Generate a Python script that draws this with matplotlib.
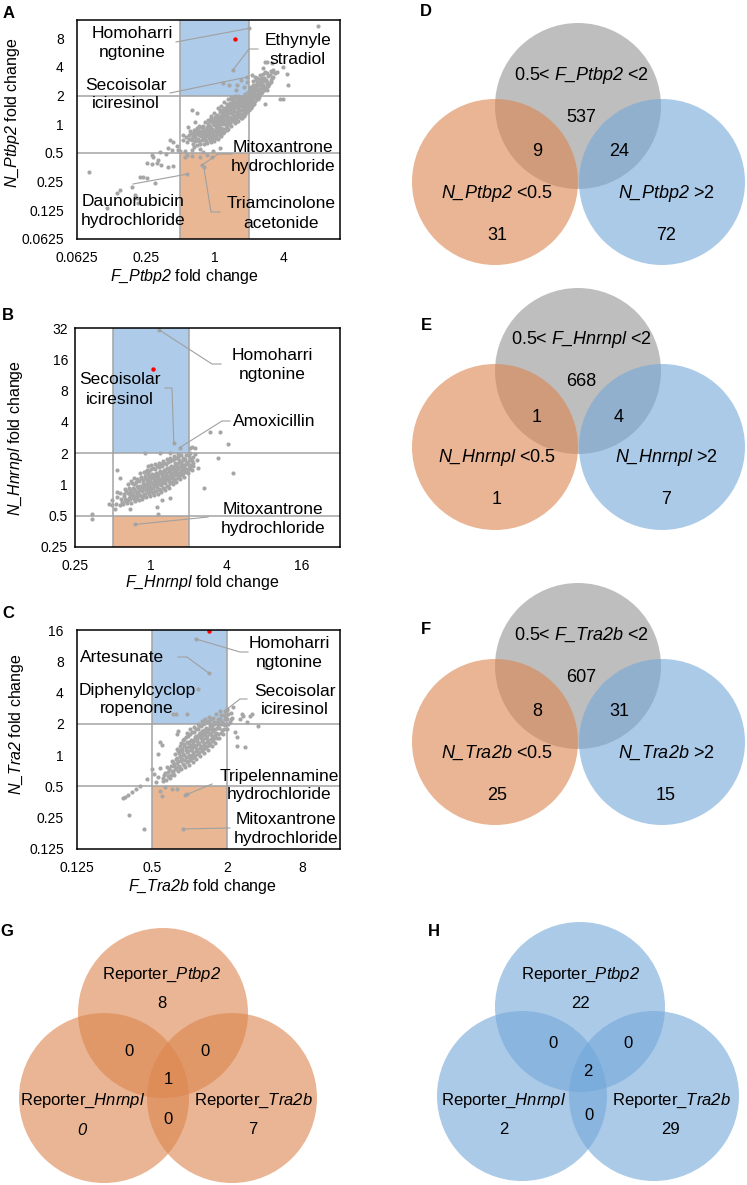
import numpy as np
import matplotlib
matplotlib.use("Agg")
import matplotlib.pyplot as plt
from matplotlib.patches import Circle, Rectangle
from matplotlib.ticker import FixedLocator, FixedFormatter, NullLocator

plt.rcParams['font.family'] = ['Liberation Sans', 'DejaVu Sans']
plt.rcParams['mathtext.fontset'] = 'custom'
plt.rcParams['mathtext.rm'] = 'Liberation Sans'
plt.rcParams['mathtext.it'] = 'Liberation Sans:italic'
plt.rcParams['mathtext.sf'] = 'Liberation Sans:italic'
plt.rcParams['mathtext.bf'] = 'Liberation Sans:bold'

W, H = 747, 1185          # figure size in pixels (dpi 100)
LOW, HIGH = 0.5, 2.0      # fold change cut offs

DOT = '#a6a6a6'
GRID = '#a3a3a3'
LEAD = '#a0a0a0'
BLUE_BOX = '#aecbe9'
ORANGE_BOX = '#e9b793'

# ---------------- scatter data (log2 F fold change, log2 N fold change) ----------------
A_PTS = [
    # lower-left tail
    (-3.65, -1.67), (-3.13, -2.93), (-2.84, -2.40), (-2.75, -2.30), (-2.41, -2.20), (-2.32, -2.47),
    (-2.26, -2.58), (-2.23, -2.75), (-2.17, -1.85), (-2.09, -1.85), (-1.97, -1.88), (-1.74, -2.06),
    (-1.97, -1.36), (-1.83, -1.39), (-1.68, -1.36), (-1.57, -1.43), (-1.36, -1.50), (-1.22, -1.46),
    (-1.83, -1.08), (-1.59, -0.98), (-1.42, -1.05), (-1.25, -0.91), (-1.07, -0.91), (-1.80, -1.15),
    (-1.65, -1.25), (-1.30, -0.56), (-1.22, -0.63), (-1.36, -0.84), (-1.10, -0.75), (-1.02, -0.95),
    (-0.67, 0.49), (-0.52, 0.38), (-0.58, 0.07), (-0.78, -0.10), (-0.93, -0.38), (-0.43, -0.87),
    (-0.35, -0.97), (-0.67, -0.91), (-0.87, -0.94), (-0.60, -0.80), (0.14, -0.84), (-0.05, -0.92),
    (-0.93, -0.56), (-0.85, -0.45), (-0.80, -0.62), (-0.76, -0.38), (-0.70, -0.52), (-0.68, -0.30),
    (-0.63, -0.44), (-0.60, -0.20), (-0.55, -0.35), (-0.52, -0.12), (-0.47, -0.25), (-0.45, -0.05),
    # orange box
    (-0.87, -1.15), (-0.81, -1.08), (-0.67, -1.10), (-0.43, -1.15), (-0.23, -1.06), (-0.09, -1.15),
    (-0.38, -1.43), (-0.32, -1.50), (-0.81, -1.74),
    # main cloud
    (-0.62, -0.70), (-0.58, -0.45), (-0.61, -0.30), (-0.57, -0.60),
    (-0.52, -0.72), (-0.48, -0.50), (-0.51, -0.28), (-0.47, -0.38), (-0.53, -0.15),
    (-0.42, -0.70), (-0.38, -0.55), (-0.41, -0.40), (-0.37, -0.22), (-0.43, -0.08), (-0.39, -0.30),
    (-0.32, -0.68), (-0.28, -0.50), (-0.31, -0.36), (-0.27, -0.20), (-0.33, -0.05), (-0.29, 0.08),
    (-0.30, -0.28),
    (-0.22, -0.65), (-0.18, -0.48), (-0.21, -0.35), (-0.17, -0.20), (-0.23, -0.10), (-0.19, 0.02),
    (-0.20, 0.16), (-0.16, -0.30),
    (-0.12, -0.62), (-0.08, -0.45), (-0.11, -0.32), (-0.07, -0.18), (-0.13, -0.05), (-0.09, 0.08),
    (-0.10, 0.22), (-0.06, -0.25), (-0.12, 0.30),
    (-0.02, -0.58), (0.02, -0.42), (-0.01, -0.28), (0.03, -0.14), (-0.03, -0.02), (0.01, 0.10),
    (0.00, 0.24), (0.04, -0.20), (-0.02, 0.38), (0.02, 0.02),
    (0.08, -0.50), (0.12, -0.35), (0.09, -0.22), (0.13, -0.08), (0.07, 0.05), (0.11, 0.18),
    (0.10, 0.30), (0.14, 0.42), (0.08, 0.55), (0.12, -0.15), (0.10, 0.10),
    (0.18, -0.40), (0.22, -0.25), (0.19, -0.12), (0.23, 0.00), (0.17, 0.12), (0.21, 0.25),
    (0.20, 0.38), (0.24, 0.50), (0.18, 0.62), (0.22, 0.18), (0.19, 0.30), (0.25, 0.08),
    (0.28, -0.28), (0.32, -0.12), (0.29, 0.02), (0.33, 0.15), (0.27, 0.28), (0.31, 0.40),
    (0.30, 0.52), (0.34, 0.65), (0.28, 0.78), (0.32, 0.34), (0.35, 0.05), (0.29, 0.46),
    (0.38, -0.15), (0.42, 0.00), (0.39, 0.14), (0.43, 0.26), (0.37, 0.38), (0.41, 0.50),
    (0.40, 0.62), (0.44, 0.75), (0.38, 0.88), (0.42, 0.44), (0.45, 0.20), (0.39, 0.56),
    (0.48, -0.05), (0.52, 0.10), (0.49, 0.22), (0.53, 0.34), (0.47, 0.46), (0.51, 0.58),
    (0.50, 0.70), (0.54, 0.82), (0.48, 0.95), (0.52, 0.52), (0.55, 0.28), (0.49, 0.64),
    (0.58, 0.05), (0.62, 0.18), (0.59, 0.30), (0.63, 0.42), (0.57, 0.55), (0.61, 0.66),
    (0.60, 0.78), (0.64, 0.90), (0.58, 1.00), (0.62, 0.60), (0.65, 0.36), (0.59, 0.72),
    (0.68, 0.12), (0.72, 0.26), (0.69, 0.38), (0.73, 0.50), (0.67, 0.62), (0.71, 0.74),
    (0.70, 0.86), (0.74, 0.96), (0.68, 0.44), (0.72, 0.68), (0.75, 0.20), (0.69, 0.80),
    (0.78, 0.22), (0.82, 0.35), (0.79, 0.48), (0.83, 0.60), (0.77, 0.72), (0.81, 0.84),
    (0.80, 0.95), (0.84, 0.55), (0.78, 0.78), (0.82, 0.66), (0.85, 0.30), (0.79, 0.90),
    (0.88, 0.35), (0.92, 0.48), (0.89, 0.60), (0.93, 0.72), (0.87, 0.84), (0.91, 0.95),
    (0.90, 0.66), (0.94, 0.42), (0.88, 0.78), (0.92, 0.88), (0.95, 0.55),
    (0.98, 0.48), (1.02, 0.60), (0.99, 0.72), (1.03, 0.85), (0.97, 0.96), (1.01, 1.08),
    (1.02, 1.20), (1.04, 0.66), (0.98, 0.90), (1.03, 1.30), (1.05, 0.78),
    (1.08, 0.62), (1.12, 0.75), (1.09, 0.88), (1.13, 1.00), (1.07, 1.12), (1.11, 1.25),
    (1.10, 1.38), (1.14, 0.82), (1.08, 1.05), (1.12, 1.50), (1.15, 0.95),
    (1.18, 0.80), (1.22, 0.92), (1.19, 1.05), (1.23, 1.18), (1.17, 1.30), (1.21, 1.42),
    (1.20, 1.55), (1.24, 1.00), (1.18, 1.65), (1.22, 1.25),
    (1.28, 0.95), (1.32, 1.08), (1.29, 1.20), (1.33, 1.32), (1.27, 1.45), (1.31, 1.58),
    (1.30, 1.70), (1.34, 1.25),
    (1.38, 1.12), (1.42, 1.25), (1.39, 1.38), (1.43, 1.50), (1.37, 1.62), (1.41, 1.75),
    (1.44, 1.30),
    (1.48, 1.25), (1.52, 1.40), (1.49, 1.55), (1.53, 1.68), (1.47, 1.82), (1.51, 1.48),
    (1.58, 1.40), (1.62, 1.55), (1.59, 1.70), (1.63, 1.85), (1.66, 1.60),
    (1.70, 1.65), (1.74, 1.78), (1.68, 1.90),
    (-0.25, -0.42), (-0.24, -0.12), (-0.15, -0.55), (-0.14, -0.10), (-0.05, -0.50), (-0.04, -0.35),
    (-0.05, 0.16), (0.05, -0.32), (0.06, -0.06), (0.05, 0.32), (0.15, -0.28), (0.16, 0.00),
    (0.15, 0.24), (0.16, 0.48), (0.25, -0.18), (0.26, 0.14), (0.25, 0.33), (0.26, 0.58),
    (0.35, -0.20), (0.36, 0.22), (0.35, 0.46), (0.36, 0.72), (0.45, 0.05), (0.46, 0.38),
    (0.45, 0.66), (0.46, 0.88), (0.55, 0.15), (0.56, 0.45), (0.55, 0.62), (0.56, 0.92),
    (0.65, 0.25), (0.66, 0.52), (0.65, 0.80), (0.66, 0.98), (0.75, 0.35), (0.76, 0.62),
    (0.75, 0.88), (0.85, 0.45), (0.86, 0.70), (0.85, 0.98), (0.95, 0.62), (0.96, 0.82),
    (1.05, 0.95), (1.06, 1.15), (1.15, 1.10), (1.16, 1.35), (1.25, 1.10), (1.26, 1.38),
    (1.35, 1.40), (1.36, 1.52),
    (-0.35, -0.45), (-0.34, -0.18), (-0.26, -0.58), (-0.26, -0.30), (-0.16, -0.42), (-0.15, 0.10),
    (-0.06, -0.38), (-0.04, 0.05), (0.04, -0.48), (0.06, 0.18), (0.14, -0.42), (0.14, 0.08),
    (0.24, -0.32), (0.24, 0.24), (0.34, -0.05), (0.34, 0.30), (0.44, 0.10), (0.44, 0.52),
    (0.54, 0.22), (0.54, 0.70), (0.64, 0.10), (0.64, 0.68), (0.74, 0.30), (0.74, 0.75),
    (0.84, 0.40), (0.84, 0.78), (0.94, 0.50), (0.94, 0.78), (1.04, 0.55), (1.04, 0.90),
    (1.14, 0.70), (1.14, 1.18), (1.24, 0.88), (1.24, 1.48), (1.34, 1.10), (1.44, 1.18),
    (1.44, 1.60), (1.54, 1.34), (1.64, 1.48),
    (-0.45, -0.60), (-0.44, -0.30), (-0.55, -0.55), (-0.54, -0.22), (-0.65, -0.55), (-0.64, -0.40),
    (-0.75, -0.50), (-0.72, -0.25),
    # blue box
    (0.99, 3.34), (0.52, 1.88), (0.92, 1.64), (0.41, 1.36), (0.64, 1.36), (0.23, 1.43),
    (0.93, 1.46), (0.75, 1.55), (0.85, 1.30), (0.60, 1.20), (0.95, 1.12), (0.88, 1.05),
    # upper-right outliers
    (2.99, 3.41), (2.09, 1.74), (1.80, 1.81), (1.97, 1.99), (1.65, 2.13), (1.51, 2.16),
    (1.88, 0.87), (1.97, 0.87), (1.45, 0.70), (1.51, 1.18), (2.12, 1.36), (1.22, 1.60),
    (1.07, 1.71), (1.51, 1.78), (1.39, 1.95), (1.65, 1.81), (1.45, 2.16),
]
A_RED = (0.58, 2.96)

B_PTS = [
    (-0.92, -0.62), (-0.88, -0.40), (-0.90, -0.25),
    (-0.82, -0.65), (-0.78, -0.45), (-0.80, -0.28), (-0.77, -0.55),
    (-0.72, -0.62), (-0.68, -0.45), (-0.71, -0.30), (-0.67, -0.15), (-0.70, -0.38),
    (-0.62, -0.58), (-0.58, -0.42), (-0.61, -0.28), (-0.57, -0.12), (-0.60, 0.00), (-0.56, -0.35),
    (-0.52, -0.58), (-0.48, -0.40), (-0.51, -0.25), (-0.47, -0.10), (-0.50, 0.05), (-0.46, -0.32),
    (-0.53, 0.12),
    (-0.42, -0.52), (-0.38, -0.36), (-0.41, -0.20), (-0.37, -0.06), (-0.40, 0.08), (-0.36, -0.28),
    (-0.43, 0.20), (-0.39, -0.45),
    (-0.32, -0.50), (-0.28, -0.34), (-0.31, -0.18), (-0.27, -0.04), (-0.30, 0.10), (-0.26, 0.24),
    (-0.33, -0.26), (-0.29, 0.35), (-0.31, -0.10),
    (-0.22, -0.45), (-0.18, -0.30), (-0.21, -0.15), (-0.17, 0.00), (-0.20, 0.14), (-0.16, 0.28),
    (-0.23, -0.22), (-0.19, 0.40), (-0.21, 0.06), (-0.18, -0.38),
    (-0.12, -0.40), (-0.08, -0.25), (-0.11, -0.10), (-0.07, 0.04), (-0.10, 0.18), (-0.06, 0.32),
    (-0.13, -0.18), (-0.09, 0.46), (-0.11, 0.10), (-0.08, 0.58), (-0.12, -0.02),
    (-0.02, -0.38), (0.02, -0.22), (-0.01, -0.08), (0.03, 0.06), (0.00, 0.20), (0.04, 0.34),
    (-0.03, -0.15), (0.01, 0.48), (-0.01, 0.12), (0.02, 0.62), (-0.02, 0.27),
    (0.08, -0.35), (0.12, -0.20), (0.09, -0.05), (0.13, 0.08), (0.10, 0.22), (0.14, 0.36),
    (0.07, -0.12), (0.11, 0.50), (0.09, 0.15), (0.12, 0.66), (0.08, 0.29), (0.13, 0.00),
    (0.18, -0.30), (0.22, -0.15), (0.19, 0.00), (0.23, 0.14), (0.20, 0.28), (0.24, 0.42),
    (0.17, -0.08), (0.21, 0.56), (0.19, 0.21), (0.22, 0.70), (0.18, 0.35), (0.23, 0.07),
    (0.28, -0.25), (0.32, -0.10), (0.29, 0.05), (0.33, 0.18), (0.30, 0.32), (0.34, 0.46),
    (0.27, -0.02), (0.31, 0.60), (0.29, 0.25), (0.32, 0.74), (0.28, 0.39), (0.33, 0.11),
    (0.38, -0.18), (0.42, -0.04), (0.39, 0.10), (0.43, 0.24), (0.40, 0.38), (0.44, 0.52),
    (0.37, 0.03), (0.41, 0.66), (0.39, 0.31), (0.42, 0.80), (0.38, 0.45), (0.43, 0.17),
    (0.48, -0.10), (0.52, 0.04), (0.49, 0.18), (0.53, 0.32), (0.50, 0.46), (0.54, 0.60),
    (0.47, 0.11), (0.51, 0.74), (0.49, 0.39), (0.52, 0.86), (0.48, 0.53), (0.53, 0.25),
    (0.58, 0.00), (0.62, 0.14), (0.59, 0.28), (0.63, 0.42), (0.60, 0.56), (0.64, 0.70),
    (0.57, 0.21), (0.61, 0.82), (0.59, 0.49), (0.62, 0.92), (0.58, 0.35),
    (0.68, 0.08), (0.72, 0.22), (0.69, 0.36), (0.73, 0.50), (0.70, 0.64), (0.74, 0.78),
    (0.67, 0.29), (0.71, 0.88), (0.69, 0.57), (0.72, 0.96), (0.68, 0.43),
    (0.78, 0.16), (0.82, 0.30), (0.79, 0.44), (0.83, 0.58), (0.80, 0.72), (0.84, 0.86),
    (0.77, 0.37), (0.81, 0.95), (0.79, 0.65), (0.82, 0.51),
    (0.88, 0.25), (0.92, 0.40), (0.89, 0.54), (0.93, 0.68), (0.90, 0.82), (0.94, 0.94),
    (0.87, 0.47), (0.91, 0.61),
    (0.98, 0.35), (1.02, 0.50), (0.99, 0.64), (1.03, 0.78), (1.00, 0.90), (1.04, 0.57),
    (1.08, 0.45), (1.12, 0.60), (1.09, 0.75), (1.13, 0.88), (1.11, 0.68),
    (-0.65, -0.52), (-0.64, -0.22), (-0.55, -0.48), (-0.54, -0.18), (-0.45, -0.45), (-0.44, -0.14),
    (-0.45, 0.02), (-0.35, -0.40), (-0.34, -0.12), (-0.35, 0.16), (-0.25, -0.38), (-0.24, -0.08),
    (-0.25, 0.20), (-0.15, -0.32), (-0.14, -0.05), (-0.15, 0.22), (-0.14, 0.40), (-0.05, -0.30),
    (-0.04, -0.02), (-0.05, 0.24), (-0.04, 0.42), (0.05, -0.28), (0.06, 0.02), (0.05, 0.26),
    (0.06, 0.52), (0.15, -0.22), (0.16, 0.10), (0.15, 0.30), (0.16, 0.58), (0.25, -0.18),
    (0.26, 0.16), (0.25, 0.36), (0.26, 0.64), (0.35, -0.12), (0.36, 0.22), (0.35, 0.42),
    (0.36, 0.70), (0.45, -0.05), (0.46, 0.28), (0.45, 0.48), (0.46, 0.72), (0.55, 0.08),
    (0.56, 0.38), (0.55, 0.52), (0.56, 0.78), (0.65, 0.18), (0.66, 0.50), (0.65, 0.62),
    (0.66, 0.84), (0.75, 0.28), (0.76, 0.55), (0.75, 0.72), (0.85, 0.38), (0.86, 0.62),
    (0.85, 0.78), (0.95, 0.48), (0.96, 0.72), (1.05, 0.62), (1.06, 0.80),
    # outliers
    (-1.54, -0.93), (-1.54, -1.12), (-0.88, 0.45), (-0.82, 0.19), (-1.03, -0.51), (-1.09, -0.61),
    (-1.01, -0.67), (-0.95, -0.80), (-0.61, -0.51), (-0.56, -0.77), (0.16, -0.73), (0.29, -0.51),
    (0.50, -0.42), (0.19, -0.93), (1.41, -0.10), (1.78, 0.83), (2.18, 0.38), (2.04, 1.28),
    (1.56, 1.66), (1.83, 1.66), (1.22, 0.77), (1.25, 0.54), (1.17, 1.15), (1.03, 1.18),
    (0.50, 0.99), (0.24, 0.99), (-0.16, 0.99), (1.09, 1.20), (1.05, 1.02), (1.16, 0.98),
    # annotated
    (0.77, 1.18), (0.61, 1.31), (0.21, 4.95), (-0.42, -1.28),
]
B_RED = (0.05, 3.70)

C_PTS = [
    (-0.72, -0.82), (-0.68, -0.62), (-0.70, -0.72),
    (-0.62, -0.78), (-0.58, -0.55), (-0.61, -0.38), (-0.57, -0.66),
    (-0.52, -0.72), (-0.48, -0.52), (-0.51, -0.35), (-0.47, -0.20), (-0.50, -0.62),
    (-0.42, -0.62), (-0.38, -0.45), (-0.41, -0.28), (-0.37, -0.12), (-0.40, 0.05), (-0.43, -0.36),
    (-0.32, -0.50), (-0.28, -0.34), (-0.31, -0.18), (-0.27, -0.02), (-0.30, 0.14), (-0.26, 0.28),
    (-0.33, -0.26), (-0.29, 0.06),
    (-0.22, -0.45), (-0.18, -0.28), (-0.21, -0.12), (-0.17, 0.04), (-0.20, 0.20), (-0.16, 0.36),
    (-0.23, -0.20), (-0.19, 0.50), (-0.21, 0.12),
    (-0.12, -0.38), (-0.08, -0.22), (-0.11, -0.06), (-0.07, 0.10), (-0.10, 0.26), (-0.06, 0.42),
    (-0.13, -0.14), (-0.09, 0.58), (-0.11, 0.18), (-0.08, 0.72),
    (-0.02, -0.30), (0.02, -0.14), (-0.01, 0.02), (0.03, 0.18), (0.00, 0.34), (0.04, 0.50),
    (-0.03, -0.06), (0.01, 0.66), (-0.01, 0.26), (0.02, 0.82), (-0.02, 0.42),
    (0.08, -0.22), (0.12, -0.06), (0.09, 0.10), (0.13, 0.26), (0.10, 0.42), (0.14, 0.58),
    (0.07, 0.02), (0.11, 0.74), (0.09, 0.34), (0.12, 0.90), (0.08, 0.50),
    (0.18, -0.12), (0.22, 0.04), (0.19, 0.20), (0.23, 0.36), (0.20, 0.52), (0.24, 0.68),
    (0.17, 0.12), (0.21, 0.84), (0.19, 0.44), (0.22, 0.98), (0.18, 0.60),
    (0.28, -0.02), (0.32, 0.14), (0.29, 0.30), (0.33, 0.46), (0.30, 0.62), (0.34, 0.78),
    (0.27, 0.22), (0.31, 0.94), (0.29, 0.54), (0.32, 1.08), (0.28, 0.70),
    (0.38, 0.08), (0.42, 0.24), (0.39, 0.40), (0.43, 0.56), (0.40, 0.72), (0.44, 0.88),
    (0.37, 0.32), (0.41, 1.02), (0.39, 0.64), (0.42, 1.14), (0.38, 0.80),
    (0.48, 0.18), (0.52, 0.34), (0.49, 0.50), (0.53, 0.66), (0.50, 0.82), (0.54, 0.96),
    (0.47, 0.42), (0.51, 1.10), (0.49, 0.74), (0.52, 1.22),
    (0.58, 0.28), (0.62, 0.44), (0.59, 0.60), (0.63, 0.76), (0.60, 0.92), (0.64, 1.06),
    (0.57, 0.52), (0.61, 1.20), (0.59, 0.84),
    (0.68, 0.40), (0.72, 0.56), (0.69, 0.72), (0.73, 0.88), (0.70, 1.02), (0.74, 1.16),
    (0.67, 0.64), (0.71, 1.30),
    (0.78, 0.55), (0.82, 0.70), (0.79, 0.86), (0.83, 1.00), (0.80, 1.14), (0.84, 1.28),
    (0.81, 1.40),
    (0.88, 0.68), (0.92, 0.84), (0.89, 1.00), (0.93, 1.14), (0.90, 1.28), (0.94, 1.42),
    (0.98, 0.85), (1.02, 1.00), (0.99, 1.15), (1.03, 1.30), (1.00, 1.45),
    (1.08, 1.05), (1.12, 1.20), (1.10, 1.35),
    (-0.85, -0.70), (-0.80, -0.40), (-0.90, -0.85), (-0.95, -0.60),
    (-0.45, -0.55), (-0.44, -0.22), (-0.35, -0.38), (-0.34, -0.08), (-0.35, 0.20), (-0.25, -0.40),
    (-0.24, -0.10), (-0.25, 0.18), (-0.24, 0.38), (-0.15, -0.30), (-0.14, 0.00), (-0.15, 0.28),
    (-0.14, 0.52), (-0.05, -0.20), (-0.04, 0.12), (-0.05, 0.38), (-0.04, 0.60), (0.05, -0.10),
    (0.06, 0.24), (0.05, 0.45), (0.06, 0.74), (0.15, 0.00), (0.16, 0.32), (0.15, 0.50),
    (0.16, 0.84), (0.25, 0.10), (0.26, 0.40), (0.25, 0.60), (0.26, 0.92), (0.35, 0.20),
    (0.36, 0.52), (0.35, 0.70), (0.36, 1.00), (0.45, 0.30), (0.46, 0.62), (0.45, 0.78),
    (0.46, 1.05), (0.55, 0.40), (0.56, 0.72), (0.55, 0.90), (0.56, 1.14), (0.65, 0.55),
    (0.66, 0.82), (0.65, 1.00), (0.75, 0.66), (0.76, 0.95), (0.75, 1.10), (0.85, 0.80),
    (0.86, 1.06), (0.95, 0.95), (0.96, 1.22), (-0.55, -0.45), (-0.54, -0.70), (-0.65, -0.58),
    # outliers
    (-1.21, -2.36), (-1.61, -1.92), (-1.77, -1.37), (-1.72, -1.34), (-1.64, -1.28), (-1.53, -1.18),
    (-1.42, -1.09), (-1.32, -0.99), (-1.13, -0.77), (-1.00, -0.45), (-0.84, 0.03), (-0.79, 0.42),
    (-0.73, 0.32), (-0.34, 0.67), (-0.31, 0.77), (-0.07, 1.31), (-0.44, 1.31), (-0.36, 1.31),
    (0.22, 2.11), (-0.12, -1.28), (-0.47, -1.09), (-0.34, -1.09), (-0.66, -1.02), (-0.79, -1.15),
    (-0.73, -1.31), (-0.07, -1.25), (-0.18, -2.36),
    (1.41, 1.25), (1.65, 1.31), (1.52, 1.05), (1.47, 0.26), (1.81, 0.93), (2.00, 2.81),
    (1.15, 1.53), (1.39, 1.31), (1.60, 1.25), (1.10, 1.15), (1.33, 1.15), (1.20, 0.73),
    (1.25, 0.58), (1.25, 0.29), (0.99, 1.47), (0.51, 2.62), (0.17, 3.71),
]
C_RED = (0.51, 3.96)

# axis settings
A_XTICKS, A_XLABELS = [0.0625, 0.25, 1, 4], ['0.0625', '0.25', '1', '4']
A_YTICKS = [0.0625, 0.125, 0.25, 0.5, 1, 2, 4, 8]
A_YLABELS = ['0.0625', '0.125', '0.25', '0.5', '1', '2', '4', '8']
B_XTICKS, B_XLABELS = [0.25, 1, 4, 16], ['0.25', '1', '4', '16']
B_YTICKS = [0.25, 0.5, 1, 2, 4, 8, 16, 32]
B_YLABELS = ['0.25', '0.5', '1', '2', '4', '8', '16', '32']
C_XTICKS, C_XLABELS = [0.125, 0.5, 2, 8], ['0.125', '0.5', '2', '8']
C_YTICKS = [0.125, 0.25, 0.5, 1, 2, 4, 8, 16]
C_YLABELS = ['0.125', '0.25', '0.5', '1', '2', '4', '8', '16']

# annotations: (lines, text centre x px, first line y px, leader path px, point log2)
A_NOTES = [
    (['Homoharri', 'ngtonine'], 132, 33, [(176, 42)], (0.99, 3.34)),
    (['Ethynyle', 'stradiol'], 298, 41, [(258, 49), (249, 49)], (0.52, 1.88)),
    (['Secoisolar', 'iciresinol'], 126, 85, [(170, 93)], (0.92, 1.64)),
    (['Mitoxantrone', 'hydrochloride'], 283, 147, [(232, 154), (218, 154)], (-0.38, -1.43)),
    (['Triamcinolone', 'acetonide'], 281, 204, [(220, 212), (211, 212)], (-0.32, -1.50)),
    (['Daunorubicin', 'hydrochloride'], 133, 202, [(133, 184)], (-0.81, -1.74)),
]
B_NOTES = [
    (['Homoharri', 'ngtonine'], 272, 356, [(221, 364), (212, 364)], (0.21, 4.95)),
    (['Secoisolar', 'iciresinol'], 120, 380, [(165, 388), (172, 388)], (0.61, 1.31)),
    (['Amoxicillin'], 274, 422, [(230, 421), (222, 421)], (0.77, 1.18)),
    (['Mitoxantrone', 'hydrochloride'], 273, 509, [(208, 517)], (-0.42, -1.28)),
]
C_NOTES = [
    (['Homoharri', 'ngtonine'], 289, 643, [(248, 652), (240, 652)], (0.17, 3.71)),
    (['Artesunate'], 122, 657, [(178, 657), (187, 657)], (0.51, 2.62)),
    (['Diphenylcyclop', 'ropenone'], 137, 690, [], None),
    (['Secoisolar', 'iciresinol'], 295, 691, [(247, 699), (240, 699)], (0.99, 1.47)),
    (['Tripelennamine', 'hydrochloride'], 279, 776, [(212, 784)], (-0.12, -1.28)),
    (['Mitoxantrone', 'hydrochloride'], 286, 820, [(230, 828)], (-0.18, -2.36)),
]

# venn data
GENES = ['Ptbp2', 'Hnrnpl', 'Tra2b']
D_COUNTS = [537, 9, 24, 31, 72]
E_COUNTS = [668, 1, 4, 1, 7]
F_COUNTS = [607, 8, 31, 25, 15]
G_COUNTS = [8, 0, 0, 1, 0, 7, 0]     # top, top-left, top-right, centre, left, right, bottom
H_COUNTS = [22, 0, 0, 2, 2, 29, 0]

fig = plt.figure(figsize=(W / 100, H / 100), dpi=100)


def px_axes(l, t, r, b, **kw):
    return fig.add_axes([l / W, 1 - b / H, (r - l) / W, (b - t) / H], **kw)


def it(s):
    # italic gene names (digits included)
    return r'$\mathsf{%s}$' % s.replace('_', r'\_')


ov = px_axes(0, 0, W, H, zorder=5)
ov.set_xlim(0, W)
ov.set_ylim(H, 0)
ov.axis('off')


def scatter_panel(box, xlim, ylim, xt, xtl, yt, ytl, pts, red, ypad):
    ax = px_axes(*box)
    ax.set_xscale('log', base=2)
    ax.set_yscale('log', base=2)
    ax.set_xlim(xlim)
    ax.set_ylim(ylim)
    ax.add_patch(Rectangle((LOW, HIGH), HIGH - LOW, ylim[1] - HIGH, fc=BLUE_BOX, ec='none', zorder=0))
    ax.add_patch(Rectangle((LOW, ylim[0]), HIGH - LOW, LOW - ylim[0], fc=ORANGE_BOX, ec='none', zorder=0))
    for v in (LOW, HIGH):
        ax.axvline(v, color=GRID, lw=1.1, zorder=1)
        ax.axhline(v, color=GRID, lw=1.1, zorder=1)
    lx = np.array([p[0] for p in pts])
    ly = np.array([p[1] for p in pts])
    ax.scatter(2 ** lx, 2 ** ly, s=9, c=DOT, lw=0, zorder=2)
    ax.scatter([2 ** red[0]], [2 ** red[1]], s=10, c='#ff0000', lw=0, zorder=3)
    ax.xaxis.set_major_locator(FixedLocator(xt))
    ax.xaxis.set_major_formatter(FixedFormatter(xtl))
    ax.yaxis.set_major_locator(FixedLocator(yt))
    ax.yaxis.set_major_formatter(FixedFormatter(ytl))
    ax.xaxis.set_minor_locator(NullLocator())
    ax.yaxis.set_minor_locator(NullLocator())
    ax.tick_params(axis='both', length=0, labelsize=10)
    ax.tick_params(axis='x', pad=8.5)
    ax.tick_params(axis='y', pad=ypad)
    for sp in ax.spines.values():
        sp.set_linewidth(1.1)
        sp.set_color('black')
        sp.set_zorder(4)
    return ax


def notes(ax, items):
    for lines, tx, ty, path, pt in items:
        for i, s in enumerate(lines):
            ov.text(tx, ty + i * 19, s, ha='center', va='center', fontsize=12.5)
        if pt is None:
            continue
        disp = ax.transData.transform((2 ** pt[0], 2 ** pt[1]))
        x, y = ov.transData.inverted().transform(disp)
        xs = [p[0] for p in path] + [x]
        ys = [p[1] for p in path] + [y]
        ov.plot(xs, ys, color=LEAD, lw=0.8)


axA = scatter_panel((77, 20, 340, 239), (0.0625, 12.4), (0.0625, 12.4),
                    A_XTICKS, A_XLABELS, A_YTICKS, A_YLABELS, A_PTS, A_RED, 9.5)
axB = scatter_panel((75, 328, 340, 547), (0.25, 32), (0.25, 32),
                    B_XTICKS, B_XLABELS, B_YTICKS, B_YLABELS, B_PTS, B_RED, 5)
axC = scatter_panel((77, 630, 340, 849), (0.125, 16), (0.125, 16),
                    C_XTICKS, C_XLABELS, C_YTICKS, C_YLABELS, C_PTS, C_RED, 9.5)
notes(axA, A_NOTES)
notes(axB, B_NOTES)
notes(axC, C_NOTES)

# axis titles
for s, x, y in [(it('F_Ptbp2') + ' fold change', 184, 277),
                (it('F_Hnrnpl') + ' fold change', 202, 583),
                (it('F_Tra2b') + ' fold change', 202, 887)]:
    ov.text(x, y, s, ha='center', va='center', fontsize=11.5)
for s, x, y in [(it('N_Ptbp2') + ' fold change', 13, 113),
                (it('N_Hnrnpl') + ' fold change', 16, 438),
                (it('N_Tra2') + ' fold change', 17, 724)]:
    ov.text(x, y, s, ha='center', va='center', fontsize=11.5, rotation=90)

# panel letters
for s, x, y in [('A', 9, 13), ('B', 8, 315), ('C', 8, 613), ('D', 426, 12),
                ('E', 426, 325), ('F', 426, 629), ('G', 7, 932), ('H', 434, 932)]:
    ov.text(x, y, s, ha='center', va='center', fontsize=12, fontweight='bold')

# ---------------- venn D, E, F ----------------
GREY_V, ORANGE_V, BLUE_V = '#7f7f7f', '#dc854d', '#73a8da'
R = 83
for gene, counts, dy in zip(GENES, [D_COUNTS, E_COUNTS, F_COUNTS], [0, 265, 560]):
    ov.add_patch(Circle((578, 106 + dy), R, fc=GREY_V, alpha=0.5, ec='none'))
    ov.add_patch(Circle((495, 182 + dy), R, fc=ORANGE_V, alpha=0.6, ec='none'))
    ov.add_patch(Circle((662, 182 + dy), R, fc=BLUE_V, alpha=0.6, ec='none'))
    txt = [('0.5< ' + it('F_' + gene) + ' <2', 581, 75),
           (str(counts[0]), 581, 117),
           (str(counts[1]), 537, 152),
           (str(counts[2]), 619, 152),
           (it('N_' + gene) + ' <0.5', 497, 193),
           (str(counts[3]), 497, 235),
           (it('N_' + gene) + ' >2', 666, 193),
           (str(counts[4]), 666, 235)]
    for s, x, y in txt:
        ov.text(x, y + dy, s, ha='center', va='center', fontsize=13)

# ---------------- venn G, H ----------------
RR = 85
G_CIRCLES = [(163, 1013), (104, 1098), (232, 1098)]
H_CIRCLES = [(580, 1007), (522, 1096), (654, 1096)]
for (cx, cy) in G_CIRCLES:
    ov.add_patch(Circle((cx, cy), RR, fc='#dc854d', alpha=0.6, ec='none'))
for (cx, cy) in H_CIRCLES:
    ov.add_patch(Circle((cx, cy), RR, fc='#73a8da', alpha=0.6, ec='none'))

rep = ['Reporter_' + it(g) for g in GENES]
G_TXT = [(rep[0], 162, 975), (rep[1], 83, 1101), (rep[2], 253, 1101)]
H_TXT = [(rep[0], 581, 975), (rep[1], 504, 1101), (rep[2], 671, 1101)]
G_NUM_POS = [(162, 1004), (129, 1052), (205, 1052), (168, 1079), (83, 1130), (253, 1130), (168, 1119)]
H_NUM_POS = [(581, 1004), (553, 1044), (628, 1044), (588, 1071), (504, 1130), (671, 1130), (589, 1116)]
for s, x, y in G_TXT + H_TXT:
    ov.text(x, y, s, ha='center', va='center', fontsize=12)
for i, (n, (x, y)) in enumerate(zip(G_COUNTS, G_NUM_POS)):
    s = it(str(n)) if i == 4 else str(n)
    ov.text(x, y, s, ha='center', va='center', fontsize=12)
for n, (x, y) in zip(H_COUNTS, H_NUM_POS):
    ov.text(x, y, str(n), ha='center', va='center', fontsize=12)

fig.savefig('out.png', dpi=100)
